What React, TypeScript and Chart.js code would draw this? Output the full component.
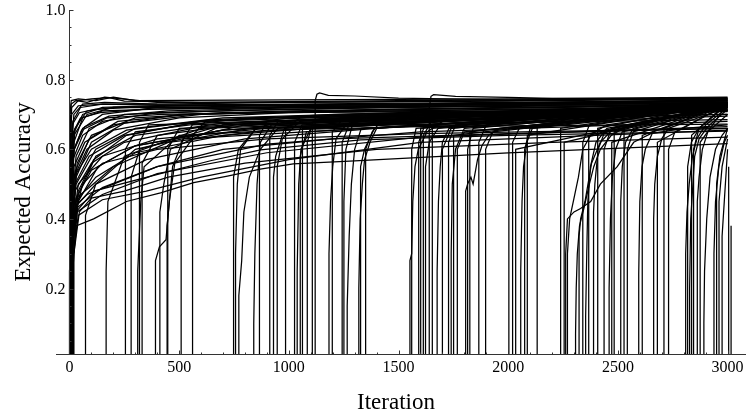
import React, { useEffect, useRef } from 'react';
import { Chart, registerables } from 'chart.js';

Chart.register(...registerables);

// Tick labels
const xTickValues = [0, 500, 1000, 1500, 2000, 2500, 3000];
const yTickValues = [0.2, 0.4, 0.6, 0.8, 1.0];
const xAxisTitle = 'Iteration';
const yAxisTitle = 'Expected Accuracy';

// Each run: flat list of (iteration, expected accuracy) pairs
const earlyRuns: number[][] = [
  [2, 0, 2, 0.7, 8, 0.74, 40, 0.745, 120, 0.74, 200, 0.75, 300, 0.74, 1000, 0.742, 2000, 0.745, 3000, 0.75],
  [3, 0, 3, 0.62, 10, 0.72, 40, 0.74, 100, 0.745, 180, 0.748, 250, 0.738, 600, 0.735, 1500, 0.74, 3000, 0.745],
  [5, 0, 5, 0.55, 15, 0.68, 50, 0.72, 150, 0.73, 400, 0.73, 1000, 0.735, 2000, 0.74, 3000, 0.748],
  [4, 0, 4, 0.5, 15, 0.64, 60, 0.7, 150, 0.72, 400, 0.725, 1000, 0.73, 2000, 0.735, 3000, 0.74],
  [6, 0, 6, 0.45, 20, 0.6, 60, 0.66, 150, 0.7, 400, 0.72, 1000, 0.725, 2000, 0.73, 3000, 0.735],
  [1, 0, 1, 0.42, 15, 0.57, 60, 0.64, 150, 0.68, 400, 0.705, 1000, 0.715, 2000, 0.725, 3000, 0.73],
  [7, 0, 7, 0.4, 20, 0.55, 70, 0.62, 200, 0.67, 500, 0.7, 1000, 0.71, 2000, 0.72, 3000, 0.728],
  [3, 0, 3, 0.38, 20, 0.52, 80, 0.6, 200, 0.655, 500, 0.69, 1000, 0.705, 2000, 0.715, 3000, 0.72],
  [8, 0, 8, 0.36, 25, 0.5, 90, 0.58, 250, 0.64, 600, 0.68, 1200, 0.7, 2000, 0.71, 3000, 0.718],
  [2, 0, 2, 0.34, 25, 0.48, 100, 0.56, 250, 0.62, 600, 0.665, 1200, 0.69, 2000, 0.705, 3000, 0.712],
  [10, 0, 10, 0.33, 30, 0.46, 100, 0.54, 300, 0.61, 700, 0.655, 1200, 0.68, 2000, 0.7, 3000, 0.708],
  [4, 0, 4, 0.32, 30, 0.45, 120, 0.52, 300, 0.59, 700, 0.64, 1300, 0.67, 2000, 0.69, 3000, 0.7],
  [12, 0, 12, 0.31, 35, 0.44, 120, 0.5, 350, 0.57, 800, 0.63, 1500, 0.665, 3000, 0.695],
  [5, 0, 5, 0.3, 30, 0.43, 150, 0.49, 400, 0.55, 900, 0.615, 1600, 0.65, 3000, 0.68],
  [9, 0, 9, 0.29, 35, 0.42, 150, 0.47, 400, 0.53, 900, 0.59, 1600, 0.635, 3000, 0.665],
  [14, 0, 14, 0.28, 40, 0.41, 150, 0.455, 350, 0.48, 600, 0.52, 1000, 0.57, 1600, 0.62, 3000, 0.655],
  [3, 0, 3, 0.28, 30, 0.42, 111, 0.48, 415, 0.53, 643, 0.567, 871, 0.598, 1327, 0.627, 2000, 0.64, 3000, 0.652],
  [16, 0, 16, 0.26, 30, 0.38, 110, 0.4, 260, 0.45, 415, 0.475, 566, 0.504, 720, 0.523, 870, 0.543, 1020, 0.558, 1300, 0.567, 2000, 0.59, 3000, 0.616],
  [6, 0, 6, 0.45, 20, 0.62, 60, 0.69, 150, 0.71, 400, 0.715, 1000, 0.72, 2000, 0.725, 3000, 0.735],
  [11, 0, 11, 0.5, 25, 0.66, 80, 0.71, 200, 0.72, 600, 0.72, 1500, 0.725, 3000, 0.738],
  [2, 0, 2, 0.6, 10, 0.7, 40, 0.725, 150, 0.73, 500, 0.725, 1500, 0.73, 3000, 0.742],
  [13, 0, 13, 0.35, 30, 0.52, 100, 0.62, 250, 0.675, 600, 0.7, 1500, 0.715, 3000, 0.725],
  [7, 0, 7, 0.37, 30, 0.5, 120, 0.6, 300, 0.66, 700, 0.69, 1500, 0.705, 3000, 0.715],
  [18, 0, 18, 0.3, 40, 0.45, 130, 0.55, 300, 0.61, 700, 0.655, 1500, 0.68, 3000, 0.7],
  [1, 0, 1, 0.3, 40, 0.47, 120, 0.58, 300, 0.64, 700, 0.675, 1500, 0.695, 3000, 0.71],
  [15, 0, 15, 0.4, 35, 0.56, 100, 0.64, 300, 0.69, 700, 0.705, 1500, 0.71, 3000, 0.72],
  [4, 0, 4, 0.48, 20, 0.64, 80, 0.7, 200, 0.72, 600, 0.725, 1500, 0.728, 3000, 0.732],
  [9, 0, 9, 0.33, 30, 0.44, 80, 0.47, 200, 0.5, 400, 0.55, 700, 0.6, 1200, 0.63, 2000, 0.645, 3000, 0.66],
  [20, 0, 20, 0.3, 45, 0.42, 100, 0.46, 250, 0.48, 450, 0.52, 800, 0.56, 1400, 0.6, 2200, 0.62, 3000, 0.635],
  [5, 0, 5, 0.34, 30, 0.46, 90, 0.49, 200, 0.55, 450, 0.62, 900, 0.655, 1600, 0.665, 3000, 0.672],
  [3, 0, 3, 0.66, 8, 0.73, 30, 0.74, 80, 0.735, 160, 0.75, 240, 0.745, 400, 0.735, 1000, 0.735, 2000, 0.738, 3000, 0.745],
  [10, 0, 10, 0.42, 30, 0.58, 90, 0.66, 250, 0.7, 700, 0.71, 1500, 0.72, 3000, 0.728],
  [12, 0, 12, 0.36, 40, 0.5, 150, 0.58, 400, 0.63, 900, 0.66, 1800, 0.675, 3000, 0.685],
  [0, 0, 0, 0.25, 20, 0.4, 60, 0.5, 150, 0.56, 400, 0.6, 900, 0.63, 1600, 0.645, 3000, 0.66],
  [6, 0, 6, 0.52, 18, 0.65, 50, 0.69, 140, 0.705, 350, 0.715, 900, 0.72, 1800, 0.73, 3000, 0.74],
  [9, 0, 9, 0.47, 22, 0.6, 70, 0.665, 180, 0.695, 450, 0.71, 1100, 0.72, 2000, 0.728, 3000, 0.738],
  [13, 0, 13, 0.41, 28, 0.54, 90, 0.63, 220, 0.68, 550, 0.7, 1200, 0.71, 2200, 0.72, 3000, 0.73],
  [1, 0, 1, 0.56, 12, 0.67, 45, 0.705, 120, 0.715, 300, 0.72, 800, 0.718, 1600, 0.722, 3000, 0.735],
  [17, 0, 17, 0.33, 40, 0.48, 110, 0.57, 260, 0.64, 600, 0.68, 1300, 0.7, 2200, 0.71, 3000, 0.722],
  [8, 0, 8, 0.58, 20, 0.7, 60, 0.73, 160, 0.735, 400, 0.73, 1000, 0.728, 2000, 0.732, 3000, 0.742],
  [11, 0, 11, 0.38, 30, 0.53, 100, 0.6, 260, 0.655, 650, 0.685, 1400, 0.7, 3000, 0.712],
  [2, 0, 2, 0.44, 16, 0.59, 55, 0.655, 170, 0.69, 420, 0.7, 1000, 0.705, 2000, 0.71, 3000, 0.725],
];

const midRuns: number[][] = [
  [73, 0, 73, 0.41, 120, 0.5, 300, 0.6, 800, 0.67, 3000, 0.71],
  [167, 0, 167, 0.25, 175, 0.45, 250, 0.58, 600, 0.66, 3000, 0.71],
  [255, 0, 255, 0.6, 300, 0.65, 800, 0.69, 3000, 0.72],
  [281, 0, 281, 0.52, 320, 0.6, 700, 0.67, 3000, 0.715],
  [311, 0, 311, 0.25, 325, 0.45, 340, 0.55, 500, 0.64, 3000, 0.72],
  [319, 0, 319, 0.62, 360, 0.67, 3000, 0.725],
  [331, 0, 331, 0.56, 400, 0.64, 1000, 0.69, 3000, 0.72],
  [392, 0, 392, 0.28, 410, 0.32, 440, 0.34, 455, 0.45, 480, 0.56, 560, 0.63, 1000, 0.68, 3000, 0.72],
  [412, 0, 412, 0.42, 430, 0.5, 460, 0.6, 700, 0.67, 3000, 0.72],
  [445, 0, 445, 0.38, 470, 0.55, 520, 0.63, 3000, 0.72],
  [448, 0, 448, 0.6, 500, 0.66, 3000, 0.725],
  [509, 0, 509, 0.62, 560, 0.67, 3000, 0.73],
  [561, 0, 561, 0.64, 620, 0.68, 3000, 0.73],
  [748, 0, 748, 0.52, 770, 0.6, 850, 0.66, 3000, 0.72],
  [757, 0, 757, 0.3, 765, 0.5, 780, 0.6, 850, 0.66, 3000, 0.72],
  [772, 0, 772, 0.18, 785, 0.28, 795, 0.42, 820, 0.52, 870, 0.6, 950, 0.66, 3000, 0.72],
  [840, 0, 840, 0.1, 845, 0.3, 855, 0.5, 870, 0.62, 920, 0.67, 3000, 0.725],
  [866, 0, 866, 0.64, 900, 0.68, 3000, 0.73],
  [913, 0, 913, 0.64, 950, 0.68, 3000, 0.73],
  [928, 0, 928, 0.45, 932, 0.52, 940, 0.58, 980, 0.66, 3000, 0.72],
  [947, 0, 947, 0.55, 970, 0.63, 1050, 0.68, 3000, 0.725],
  [985, 0, 985, 0.66, 1050, 0.69, 3000, 0.73],
  [1026, 0, 1026, 0.62, 1060, 0.67, 3000, 0.725],
  [1038, 0, 1038, 0.25, 1045, 0.5, 1055, 0.6, 1100, 0.66, 3000, 0.72],
  [1052, 0, 1052, 0.58, 1080, 0.65, 3000, 0.72],
  [1062, 0, 1062, 0.66, 3000, 0.73],
  [1120, 0, 1120, 0.74, 1128, 0.758, 1140, 0.762, 1180, 0.755, 1300, 0.753, 1500, 0.747, 2000, 0.742, 3000, 0.745],
  [1084, 0, 1084, 0.62, 1110, 0.68, 3000, 0.73],
  [1107, 0, 1107, 0.66, 3000, 0.73],
  [1183, 0, 1183, 0.3, 1190, 0.45, 1200, 0.55, 1215, 0.63, 1260, 0.67, 3000, 0.725],
  [1198, 0, 1198, 0.65, 1250, 0.69, 3000, 0.73],
  [1243, 0, 1243, 0.62, 1280, 0.68, 3000, 0.73],
  [1251, 0, 1251, 0.45, 1260, 0.6, 1290, 0.67, 3000, 0.72],
  [1266, 0, 1266, 0.15, 1275, 0.35, 1285, 0.5, 1300, 0.6, 1330, 0.66, 3000, 0.72],
  [1319, 0, 1319, 0.2, 1325, 0.4, 1335, 0.5, 1345, 0.57, 1370, 0.62, 1400, 0.66, 3000, 0.72],
  [1327, 0, 1327, 0.55, 1345, 0.6, 1390, 0.66, 3000, 0.725],
  [1350, 0, 1350, 0.6, 1380, 0.65, 1420, 0.68, 3000, 0.73],
];

const lateRuns: number[][] = [
  [1552, 0, 1552, 0.28, 1560, 0.3, 1565, 0.45, 1575, 0.55, 1590, 0.6, 1630, 0.65, 1700, 0.68, 3000, 0.72],
  [1560, 0, 1560, 0.6, 1580, 0.66, 3000, 0.73],
  [1592, 0, 1592, 0.62, 1620, 0.67, 3000, 0.73],
  [1601, 0, 1601, 0.66, 3000, 0.73],
  [1613, 0, 1613, 0.64, 1650, 0.68, 3000, 0.73],
  [1623, 0, 1623, 0.55, 1640, 0.62, 1680, 0.66, 3000, 0.72],
  [1654, 0, 1654, 0.66, 3000, 0.735],
  [1676, 0, 1676, 0.25, 1682, 0.45, 1690, 0.55, 1700, 0.62, 1730, 0.66, 3000, 0.725],
  [1640, 0, 1640, 0.72, 1648, 0.752, 1660, 0.757, 1760, 0.752, 2000, 0.749, 2200, 0.746, 3000, 0.745],
  [1700, 0, 1700, 0.6, 1740, 0.66, 3000, 0.73],
  [1728, 0, 1728, 0.62, 1760, 0.67, 3000, 0.73],
  [1740, 0, 1740, 0.3, 1745, 0.5, 1760, 0.6, 1800, 0.66, 3000, 0.72],
  [1751, 0, 1751, 0.64, 3000, 0.73],
  [1768, 0, 1768, 0.6, 1800, 0.65, 3000, 0.725],
  [1806, 0, 1806, 0.48, 1815, 0.5, 1830, 0.52, 1840, 0.5, 1860, 0.57, 1880, 0.61, 1910, 0.64, 1960, 0.66, 3000, 0.72],
  [1815, 0, 1815, 0.6, 1840, 0.66, 3000, 0.73],
  [1825, 0, 1825, 0.65, 3000, 0.73],
  [1866, 0, 1866, 0.62, 1900, 0.67, 3000, 0.73],
  [1897, 0, 1897, 0.6, 1930, 0.65, 3000, 0.725],
  [2003, 0, 2003, 0.66, 3000, 0.735],
  [2020, 0, 2020, 0.62, 2050, 0.66, 3000, 0.73],
  [2034, 0, 2034, 0.6, 3000, 0.73],
  [2057, 0, 2057, 0.25, 2063, 0.45, 2070, 0.55, 2085, 0.62, 2110, 0.66, 3000, 0.72],
  [2075, 0, 2075, 0.6, 2100, 0.66, 3000, 0.73],
  [2087, 0, 2087, 0.64, 3000, 0.73],
  [2132, 0, 2132, 0.67, 3000, 0.735],
  [2239, 0, 2239, 0.66, 3000, 0.735],
  [2255, 0, 2255, 0.62, 3000, 0.73],
];

const finalRuns: number[][] = [
  [2262, 0, 2262, 0.3, 2270, 0.4, 2300, 0.42, 2330, 0.43, 2376, 0.45, 2420, 0.5, 2497, 0.55, 2572, 0.62, 2650, 0.645, 2800, 0.66, 3000, 0.67],
  [2270, 0, 2270, 0.3, 2280, 0.4, 2300, 0.46, 2320, 0.52, 2340, 0.6, 2380, 0.645, 2450, 0.67, 3000, 0.72],
  [2307, 0, 2307, 0.07, 2310, 0.2, 2315, 0.3, 2325, 0.38, 2345, 0.43, 2370, 0.5, 2390, 0.55, 2420, 0.6, 2470, 0.64, 2550, 0.67, 3000, 0.72],
  [2323, 0, 2323, 0.35, 2330, 0.4, 2350, 0.45, 2380, 0.56, 2420, 0.62, 2480, 0.66, 3000, 0.72],
  [2340, 0, 2340, 0.62, 2370, 0.67, 3000, 0.73],
  [2353, 0, 2353, 0.12, 2358, 0.3, 2363, 0.45, 2375, 0.55, 2400, 0.62, 2450, 0.66, 3000, 0.725],
  [2367, 0, 2367, 0.64, 3000, 0.73],
  [2389, 0, 2389, 0.42, 2395, 0.5, 2410, 0.6, 2440, 0.65, 3000, 0.725],
  [2408, 0, 2408, 0.66, 3000, 0.735],
  [2437, 0, 2437, 0.6, 2470, 0.66, 3000, 0.73],
  [2460, 0, 2460, 0.2, 2466, 0.4, 2475, 0.52, 2490, 0.6, 2520, 0.65, 3000, 0.72],
  [2472, 0, 2472, 0.62, 3000, 0.73],
  [2483, 0, 2483, 0.65, 3000, 0.73],
  [2513, 0, 2513, 0.45, 2520, 0.55, 2535, 0.62, 2570, 0.66, 3000, 0.725],
  [2528, 0, 2528, 0.66, 3000, 0.735],
  [2543, 0, 2543, 0.6, 2570, 0.65, 3000, 0.73],
  [2595, 0, 2595, 0.24, 2600, 0.45, 2610, 0.55, 2625, 0.6, 2660, 0.65, 3000, 0.725],
  [2611, 0, 2611, 0.64, 3000, 0.73],
  [2663, 0, 2663, 0.4, 2668, 0.5, 2680, 0.58, 2700, 0.63, 2730, 0.66, 3000, 0.72],
  [2680, 0, 2680, 0.62, 3000, 0.73],
  [2710, 0, 2710, 0.66, 3000, 0.735],
  [2731, 0, 2731, 0.6, 2760, 0.65, 3000, 0.73],
  [2809, 0, 2809, 0.3, 2815, 0.42, 2825, 0.5, 2840, 0.58, 2860, 0.63, 2900, 0.67, 3000, 0.72],
  [2818, 0, 2818, 0.55, 2835, 0.62, 2870, 0.66, 3000, 0.73],
  [2827, 0, 2827, 0.2, 2832, 0.4, 2840, 0.48, 2850, 0.58, 2870, 0.63, 2910, 0.665, 3000, 0.715],
  [2836, 0, 2836, 0.64, 3000, 0.735],
  [2845, 0, 2845, 0.6, 2870, 0.66, 3000, 0.73],
  [2862, 0, 2862, 0.45, 2870, 0.52, 2885, 0.6, 2910, 0.65, 3000, 0.7],
  [2875, 0, 2875, 0.62, 3000, 0.73],
  [2892, 0, 2892, 0.1, 2895, 0.25, 2905, 0.4, 2920, 0.52, 2945, 0.6, 2975, 0.64, 3000, 0.66],
  [2938, 0, 2938, 0.3, 2945, 0.45, 2960, 0.55, 2985, 0.62, 3000, 0.64],
  [2950, 0, 2950, 0.5, 2965, 0.58, 3000, 0.66],
  [2961, 0, 2961, 0.45, 2975, 0.55, 3000, 0.63],
  [2975, 0, 2975, 0.35, 2985, 0.45, 2995, 0.55, 3000, 0.6],
  [3005, 0, 3005, 0.55],
  [3016, 0, 3016, 0.38],
];

const FONT = '"Liberation Serif", "DejaVu Serif", serif';

function toPoints(run: number[]) {
  const pts: { x: number; y: number }[] = [];
  for (let i = 0; i + 1 < run.length; i += 2) pts.push({ x: run[i], y: run[i + 1] });
  return pts;
}

const axesPlugin = {
  id: 'mathematicaAxes',
  afterDraw(chart: any) {
    const { ctx, chartArea, scales } = chart;
    const xs = scales.x;
    const ys = scales.y;
    const { left, right, top, bottom } = chartArea;
    ctx.save();
    ctx.strokeStyle = '#333';
    ctx.lineWidth = 1;
    const yb = Math.round(bottom) + 0.5;
    const x0 = Math.round(xs.getPixelForValue(0)) + 0.5;
    ctx.beginPath();
    ctx.moveTo(left, yb);
    ctx.lineTo(right, yb);
    ctx.moveTo(x0, top);
    ctx.lineTo(x0, bottom);
    for (let v = 0; v <= 3000; v += 100) {
      const px = Math.round(xs.getPixelForValue(v)) + 0.5;
      const len = v % 500 === 0 ? 4 : 2;
      ctx.moveTo(px, yb);
      ctx.lineTo(px, yb - len);
    }
    for (let k = 1; k <= 20; k++) {
      const v = k * 0.05;
      const py = Math.round(ys.getPixelForValue(v)) + 0.5;
      const len = k % 4 === 0 ? 4 : 2;
      ctx.moveTo(x0, py);
      ctx.lineTo(x0 + len, py);
    }
    ctx.stroke();

    ctx.fillStyle = '#000';
    ctx.font = `16px ${FONT}`;
    ctx.textAlign = 'center';
    ctx.textBaseline = 'top';
    xTickValues.forEach((v) => {
      ctx.fillText(String(v), xs.getPixelForValue(v), bottom + 6);
    });
    ctx.textAlign = 'right';
    ctx.textBaseline = 'middle';
    yTickValues.forEach((v) => {
      ctx.fillText(v.toFixed(1), x0 - 4, ys.getPixelForValue(v) + 1);
    });

    ctx.font = `23px ${FONT}`;
    ctx.textAlign = 'center';
    ctx.textBaseline = 'alphabetic';
    ctx.fillText(xAxisTitle, 396, 409);
    ctx.save();
    ctx.translate(30, 192);
    ctx.rotate(-Math.PI / 2);
    ctx.fillText(yAxisTitle, 0, 0);
    ctx.restore();
    ctx.restore();
  },
};

export default function App() {
  const canvasRef = useRef<HTMLCanvasElement | null>(null);

  useEffect(() => {
    document.body.style.margin = '0';
    const canvas = canvasRef.current;
    if (!canvas) return;
    const allRuns = [...earlyRuns, ...midRuns, ...lateRuns, ...finalRuns];
    const chart = new Chart(canvas, {
      type: 'line',
      data: {
        datasets: allRuns.map((run) => ({
          data: toPoints(run),
          borderColor: '#000',
          borderWidth: 1.25,
          pointRadius: 0,
          fill: false,
          tension: 0,
        })),
      },
      options: {
        animation: false,
        responsive: false,
        devicePixelRatio: 1,
        parsing: false as any,
        normalized: true,
        layout: { padding: { left: 56, right: 2, top: 10, bottom: 62 } },
        plugins: { legend: { display: false }, tooltip: { enabled: false } },
        events: [],
        scales: {
          x: { type: 'linear', min: -61.5, max: 3084, display: false },
          y: { type: 'linear', min: 0.012, max: 1.0, display: false },
        },
      },
      plugins: [axesPlugin],
    });
    return () => chart.destroy();
  }, []);

  return (
    <div style={{ width: 748, height: 416, background: '#fff' }}>
      <canvas ref={canvasRef} width={748} height={416} />
    </div>
  );
}
